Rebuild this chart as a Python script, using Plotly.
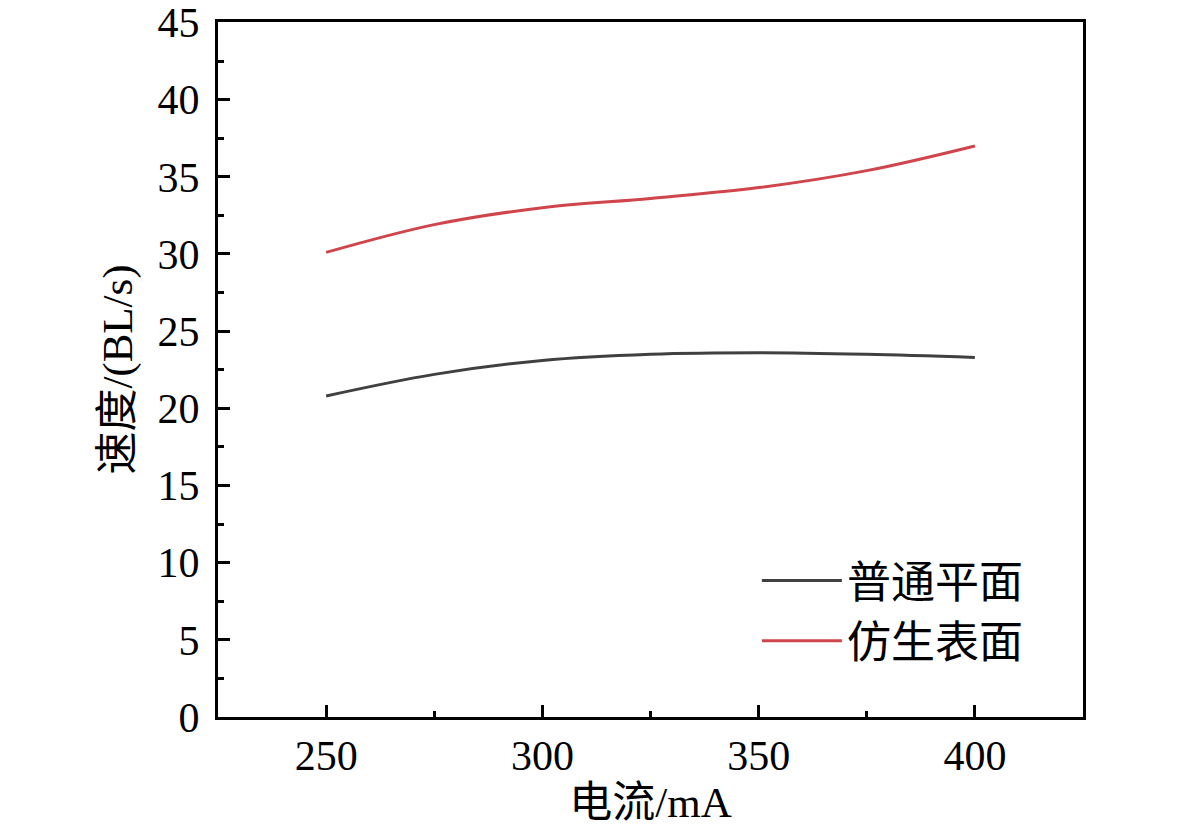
import plotly.graph_objects as go

# 电流 (mA) and 速度 (BL/s)
current = [250, 275, 300, 325, 350, 375, 400]
speed_flat = [20.8, 22.2, 23.1, 23.5, 23.6, 23.5, 23.3]
speed_bionic = [30.1, 31.9, 33.0, 33.6, 34.3, 35.4, 37.0]

x_ticks = [250, 300, 350, 400]
y_ticks = [0, 5, 10, 15, 20, 25, 30, 35, 40, 45]

font = "Liberation Serif, Times New Roman, Noto Sans CJK SC"

fig = go.Figure()
fig.add_trace(go.Scatter(x=current, y=speed_flat, mode="lines", name="普通平面",
                         line=dict(color="#404040", width=3, shape="spline", smoothing=1)))
fig.add_trace(go.Scatter(x=current, y=speed_bionic, mode="lines", name="仿生表面",
                         line=dict(color="#d0454b", width=3, shape="spline", smoothing=1)))

axis_common = dict(showline=True, linecolor="black", linewidth=3, mirror=True,
                   ticks="inside", ticklen=12, tickwidth=3, tickcolor="black",
                   showgrid=False, zeroline=False, ticklabeloverflow="allow",
                   tickfont=dict(family=font, size=42, color="black"))

fig.update_xaxes(range=[225, 425], tickvals=x_ticks,
                 minor=dict(dtick=25, tick0=225, ticks="inside", ticklen=6, tickwidth=3, tickcolor="black"),
                 title=dict(text="电流/mA", font=dict(family=font, size=43, color="black"), standoff=8),
                 **axis_common)
fig.update_yaxes(range=[0, 45.03], tickvals=y_ticks, ticklabelstandoff=7,
                 minor=dict(dtick=2.5, tick0=0, ticks="inside", ticklen=6, tickwidth=3, tickcolor="black"),
                 title=dict(text="速度/(BL/s)", font=dict(family=font, size=43, color="black"), standoff=12),
                 **axis_common)

fig.update_layout(
    width=1181, height=830,
    margin=dict(l=210, r=106, t=14, b=121, autoexpand=False),
    plot_bgcolor="white", paper_bgcolor="white",
    font=dict(family=font, color="black"),
    legend=dict(x=0.623, y=0.247, xanchor="left", yanchor="top",
                bgcolor="rgba(0,0,0,0)", font=dict(family=font, size=44, color="black"),
                tracegroupgap=0, itemwidth=80),
)

fig.write_html("out.html")
